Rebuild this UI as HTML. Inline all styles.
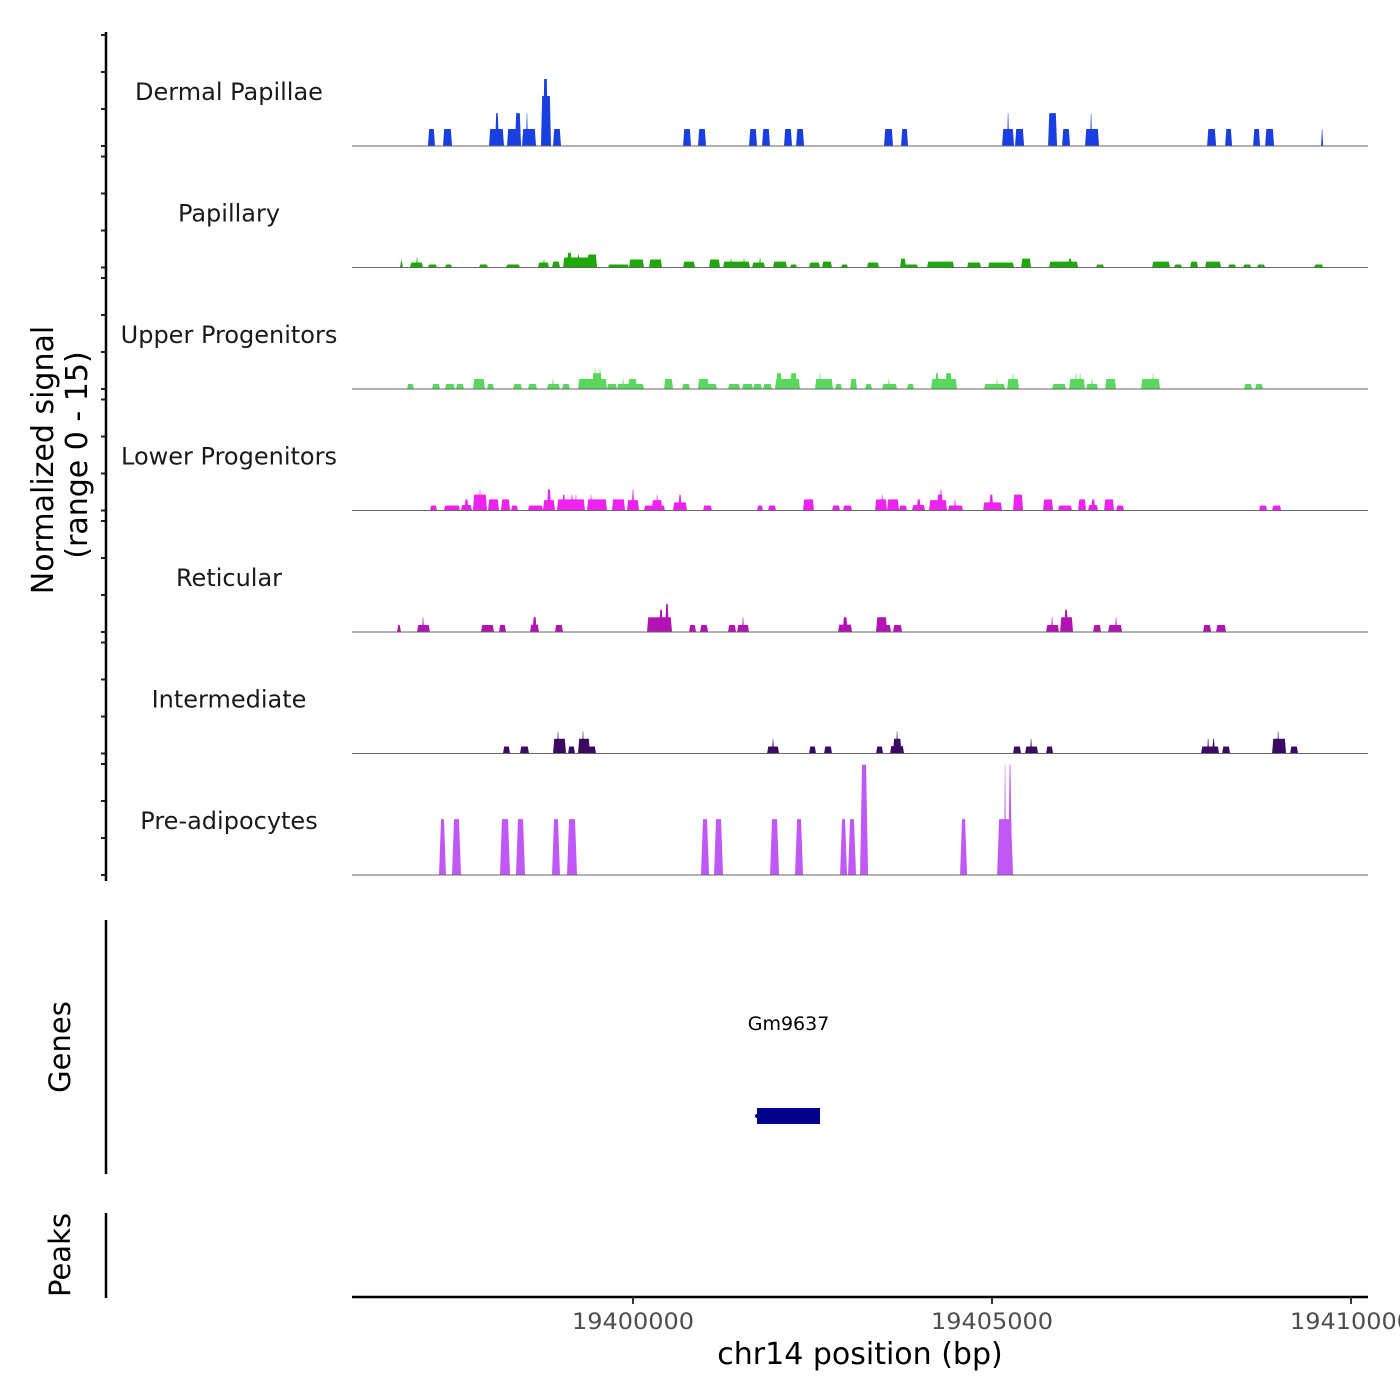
<!DOCTYPE html>
<html><head><meta charset="utf-8">
<style>
html,body{margin:0;padding:0;background:#fff;}
svg{display:block;font-family:"DejaVu Sans","Liberation Sans",sans-serif;}
</style></head>
<body>
<svg id="chart" width="1400" height="1400" viewBox="0 0 1400 1400" xmlns="http://www.w3.org/2000/svg">
<rect x="0" y="0" width="1400" height="1400" fill="#fff"/>
<g id="tracks"></g>
<g id="axes"></g>
</svg>
<script>
// Genomic positions relative to REGION_ORIGIN (bp); values are normalized signal.
const REGION_ORIGIN = 19400000;
const xDomain = [-3914, 10237];
const yMax = 15;
const trackNames = ["Dermal Papillae","Papillary","Upper Progenitors","Lower Progenitors","Reticular","Intermediate","Pre-adipocytes"];
const trackColors = ["#1a3fe0","#1fa80a","#5ad85e","#ee22ee","#b313b3","#3b0b63","#c058f6"];
const xTickValues = [19400000,19405000,19410000];
const xTickLabels = ["19400000","19405000","19410000"];
const yTickValues = [0,5,10,15];

const dermalPeaks = [[-2856,-2758,2.3],[-2647,-2521,2.3],[-2006,-1797,2.3],[-1922,-1867,4.45],[-1755,-1560,2.3],[-1644,-1560,4.45],[-1546,-1351,2.3],[-1491,-1463,4.45],[-1282,-1142,6.75],[-1254,-1184,9.05],[-1114,-1003,2.3],[697,808,2.3],[905,1017,2.3],[1616,1727,2.3],[1797,1908,2.3],[2103,2215,2.3],[2271,2382,2.3],[3496,3622,2.3],[3733,3831,2.3],[5140,5307,2.3],[5210,5238,4.45],[5321,5447,2.3],[5781,5906,4.45],[5976,6087,2.3],[6296,6491,2.3],[6366,6394,4.45],[7996,8121,2.3],[8247,8344,2.3],[8637,8734,2.3],[8804,8929,2.3],[9584,9612,2.3]];

const papillaryPeaks = [[-3246,-3204,0.95],[-3106,-2925,0.68],[-3023,-2995,1.35],[-2856,-2730,0.4],[-2619,-2521,0.4],[-2145,-2020,0.4],[-1769,-1574,0.4],[-1323,-1170,0.68],[-1254,-1226,1.08],[-1128,-1017,0.8],[-975,-501,1.35],[-920,-850,2.0],[-780,-740,1.75],[-640,-501,1.75],[-348,-56,0.4],[-56,153,1.08],[223,404,1.08],[697,864,0.8],[1059,1212,1.08],[1254,1630,0.8],[1351,1379,1.2],[1532,1560,1.2],[1658,1839,0.68],[1755,1783,1.35],[1950,2145,0.8],[2187,2285,0.4],[2452,2605,0.68],[2633,2772,0.8],[2897,2995,0.4],[3260,3427,0.68],[3719,3803,1.2],[3719,3970,0.4],[4095,4472,0.8],[4653,4848,0.68],[4945,5307,0.68],[5405,5544,1.2],[5795,6199,0.8],[6060,6115,1.2],[6450,6561,0.4],[7230,7480,0.8],[7536,7648,0.4],[7759,7870,0.8],[7968,8191,0.8],[8288,8400,0.4],[8497,8609,0.4],[8692,8804,0.4],[9486,9612,0.4]];

const upperPeaks = [[-3148,-3051,0.68],[-2800,-2688,0.68],[-2619,-2480,0.68],[-2466,-2354,0.68],[-2229,-2062,1.35],[-2034,-1936,0.68],[-1672,-1546,0.68],[-1463,-1337,0.68],[-1198,-1017,0.68],[-1128,-1100,1.35],[-989,-878,0.68],[-766,-362,1.35],[-655,-627,1.6],[-570,-430,2.15],[-543,-515,2.85],[-474,-446,2.85],[-362,-223,0.68],[-223,153,0.68],[-153,-125,1.35],[-70,56,1.35],[432,557,1.35],[683,794,0.68],[905,1170,0.68],[905,1059,1.35],[1323,1491,0.68],[1518,1672,0.68],[1672,1797,0.68],[1811,1936,0.68],[1978,2326,1.35],[1992,2076,2.15],[2187,2285,2.15],[2535,2786,1.35],[2591,2619,2.15],[2814,2911,0.68],[3023,3120,1.35],[3232,3329,0.68],[3469,3678,0.68],[3552,3580,1.35],[3817,3914,0.68],[4151,4513,1.35],[4207,4263,2.15],[4346,4444,2.15],[4889,5182,0.68],[5057,5084,1.35],[5210,5377,1.35],[5279,5307,2.15],[5837,6032,0.68],[6073,6296,1.35],[6157,6185,2.15],[6213,6241,2.15],[6310,6477,0.68],[6380,6408,1.35],[6575,6728,1.35],[7076,7341,1.35],[7230,7257,2.15],[8511,8623,0.68],[8664,8776,0.68]];

const lowerPeaks = [[-2828,-2730,0.68],[-2633,-2410,0.68],[-2396,-2243,0.75],[-2350,-2290,1.5],[-2229,-2034,2.15],[-2145,-2117,2.85],[-2020,-1867,1.5],[-1839,-1713,1.5],[-1699,-1602,0.68],[-1463,-1254,0.68],[-1254,-1087,1.4],[-1200,-1140,2.85],[-1059,-669,1.5],[-990,-940,2.15],[-870,-830,2.15],[-810,-780,2.15],[-641,-362,1.5],[-600,-570,2.15],[-293,-111,1.5],[-84,84,1.4],[-20,20,2.85],[153,446,0.68],[260,410,1.4],[320,350,2.15],[557,752,1.1],[630,680,2.15],[975,1100,0.68],[1727,1811,0.68],[1881,1992,0.68],[2368,2521,1.5],[2772,2884,0.68],[2925,3051,0.68],[3371,3538,1.5],[3455,3485,2.15],[3538,3705,1.5],[3705,3817,0.68],[3886,4068,0.75],[3950,4010,1.5],[4123,4374,1.4],[4230,4320,2.15],[4270,4310,2.85],[4388,4597,0.68],[4470,4500,1.5],[4876,5140,1.1],[4960,5020,2.15],[5293,5433,2.15],[5711,5851,1.5],[5920,6115,0.68],[6199,6310,1.5],[6338,6477,0.75],[6380,6440,1.5],[6561,6700,1.5],[6728,6839,0.68],[8720,8832,0.68],[8901,9027,0.68]];

const reticularPeaks = [[-3287,-3232,0.95],[-3009,-2828,0.95],[-2939,-2911,2.0],[-2117,-1936,0.95],[-1867,-1769,0.95],[-1435,-1309,1.0],[-1400,-1340,2.0],[-1087,-975,0.95],[195,543,2.0],[362,418,3.0],[446,501,3.8],[780,878,0.95],[933,1045,0.95],[1323,1435,0.95],[1449,1616,0.95],[1518,1546,2.0],[2856,3051,1.0],[2920,2990,2.0],[3385,3594,0.95],[3385,3540,2.0],[3622,3747,0.95],[5753,5934,0.95],[5823,5851,2.0],[5948,6129,2.0],[6004,6060,3.0],[6408,6519,0.95],[6617,6812,0.95],[6714,6742,2.0],[7940,8052,0.95],[8121,8260,0.95]];

const intermediatePeaks = [[-1811,-1713,0.95],[-1574,-1449,0.95],[-1114,-933,2.0],[-1059,-1031,3.0],[-905,-808,0.95],[-766,-515,0.95],[-766,-599,2.0],[-710,-683,3.0],[1867,2034,0.95],[1936,1964,2.0],[2452,2549,0.95],[2661,2772,0.95],[3385,3483,0.95],[3580,3775,1.0],[3620,3740,2.0],[3664,3691,3.0],[5293,5405,0.95],[5461,5642,0.95],[5530,5558,2.0],[5753,5851,0.95],[7912,8163,0.95],[7996,8024,2.0],[8065,8107,2.0],[8205,8316,0.95],[8901,9096,2.0],[8971,8999,3.0],[9152,9263,0.95]];

const preadipocytePeaks = [[-2702,-2605,7.55],[-2521,-2396,7.55],[-1853,-1713,7.55],[-1630,-1504,7.55],[-1128,-1017,7.55],[-919,-780,7.55],[947,1059,7.55],[1128,1254,7.55],[1908,2034,7.55],[2257,2368,7.55],[2884,2981,7.55],[2995,3106,7.55],[3162,3274,14.9],[4555,4653,7.55],[5071,5293,7.55],[5168,5196,14.9],[5224,5279,14.9]];

const geneNames = ["Gm9637"];
const geneStarts = [1727];
const geneEnds = [2605];

const allPeaks = [dermalPeaks,papillaryPeaks,upperPeaks,lowerPeaks,reticularPeaks,intermediatePeaks,preadipocytePeaks];

const NS = "http://www.w3.org/2000/svg";
const plotLeft = 352, plotRight = 1368;
const firstBase = 146, trackStep = 121.5, trackH = 111;
function xs(rel){ return plotLeft + (rel - xDomain[0]) / (xDomain[1] - xDomain[0]) * (plotRight - plotLeft); }
function ys(v, base){ return base - Math.min(v, yMax) / yMax * trackH; }
function mk(tag, attrs, parent){ const e = document.createElementNS(NS, tag); for (const k in attrs) e.setAttribute(k, attrs[k]); parent.appendChild(e); return e; }

const tracksG = document.getElementById('tracks');
const axesG = document.getElementById('axes');

allPeaks.forEach(function(peaks, ti){
  const base = firstBase + ti * trackStep;
  const g = mk('g', {}, tracksG);
  
  
  const slantPx = ti === 6 ? 2 : 1.2;
  peaks.forEach(function(p){
    const x0 = xs(p[0]), x1 = xs(p[1]);
    const s = Math.min(slantPx, (x1 - x0) / 2.5);
    const top = ys(p[2], base);
    const poly = mk('polygon', {points: x0 + ',' + base + ' ' + (x0 + s) + ',' + top + ' ' + (x1 - s) + ',' + top + ' ' + x1 + ',' + base, fill: trackColors[ti]}, g);
    
    
  });
  const bl = mk('line', {x1: plotLeft, x2: plotRight, y1: base, y2: base, stroke: '#666', 'stroke-width': 1}, g);
  
  
  const lab = mk('text', {x: 229, y: base - 46, 'text-anchor': 'middle', 'font-size': 24, fill: '#1a1a1a'}, g);
  lab.textContent = trackNames[ti];
  
  
  yTickValues.forEach(function(v){
    const y = ys(v, base);
    const t = mk('line', {x1: 101, x2: 106, y1: y, y2: y, stroke: '#222', 'stroke-width': 2}, axesG);
    
    
  });
});

const yax = mk('line', {x1: 106, x2: 106, y1: 32, y2: 881, stroke: '#000', 'stroke-width': 2.5}, axesG);


const yt1 = mk('text', {transform: 'translate(53,460) rotate(-90)', 'text-anchor': 'middle', 'font-size': 30, fill: '#000'}, axesG);
yt1.textContent = 'Normalized signal';


const yt2 = mk('text', {transform: 'translate(87,455) rotate(-90)', 'text-anchor': 'middle', 'font-size': 30, fill: '#000'}, axesG);
yt2.textContent = '(range 0 - 15)';



const gax = mk('line', {x1: 106, x2: 106, y1: 920, y2: 1174, stroke: '#000', 'stroke-width': 2.5}, axesG);


const gt = mk('text', {transform: 'translate(70,1047) rotate(-90)', 'text-anchor': 'middle', 'font-size': 29, fill: '#000'}, axesG);
gt.textContent = 'Genes';


geneNames.forEach(function(n, i){
  const x0 = xs(geneStarts[i]), x1 = xs(geneEnds[i]);
  const r = mk('rect', {x: x0, y: 1108, width: x1 - x0, height: 16, fill: '#00008b'}, tracksG);
  
  
  const c = mk('circle', {cx: x0, cy: 1116, r: 2, fill: '#00008b'}, tracksG);
  
  
  const t = mk('text', {x: (x0 + x1) / 2, y: 1030, 'text-anchor': 'middle', 'font-size': 19, fill: '#000'}, tracksG);
  t.textContent = n;
  
  
});

const pax = mk('line', {x1: 106, x2: 106, y1: 1213, y2: 1298, stroke: '#000', 'stroke-width': 2.5}, axesG);


const pt = mk('text', {transform: 'translate(70,1255) rotate(-90)', 'text-anchor': 'middle', 'font-size': 29, fill: '#000'}, axesG);
pt.textContent = 'Peaks';



const xax = mk('line', {x1: plotLeft, x2: plotRight, y1: 1297, y2: 1297, stroke: '#000', 'stroke-width': 2.5}, axesG);


xTickValues.forEach(function(v, i){
  const x = xs(v - REGION_ORIGIN);
  const t = mk('line', {x1: x, x2: x, y1: 1297, y2: 1304, stroke: '#333', 'stroke-width': 2}, axesG);
  
  
  const l = mk('text', {x: x, y: 1329, 'text-anchor': 'middle', 'font-size': 22, fill: '#4d4d4d', textLength: 122, lengthAdjust: 'spacingAndGlyphs'}, axesG);
  l.textContent = xTickLabels[i];
  
  
});
const xt = mk('text', {x: 860, y: 1364, 'text-anchor': 'middle', 'font-size': 30, fill: '#000'}, axesG);
xt.textContent = 'chr14 position (bp)';


</script>
</body></html>
